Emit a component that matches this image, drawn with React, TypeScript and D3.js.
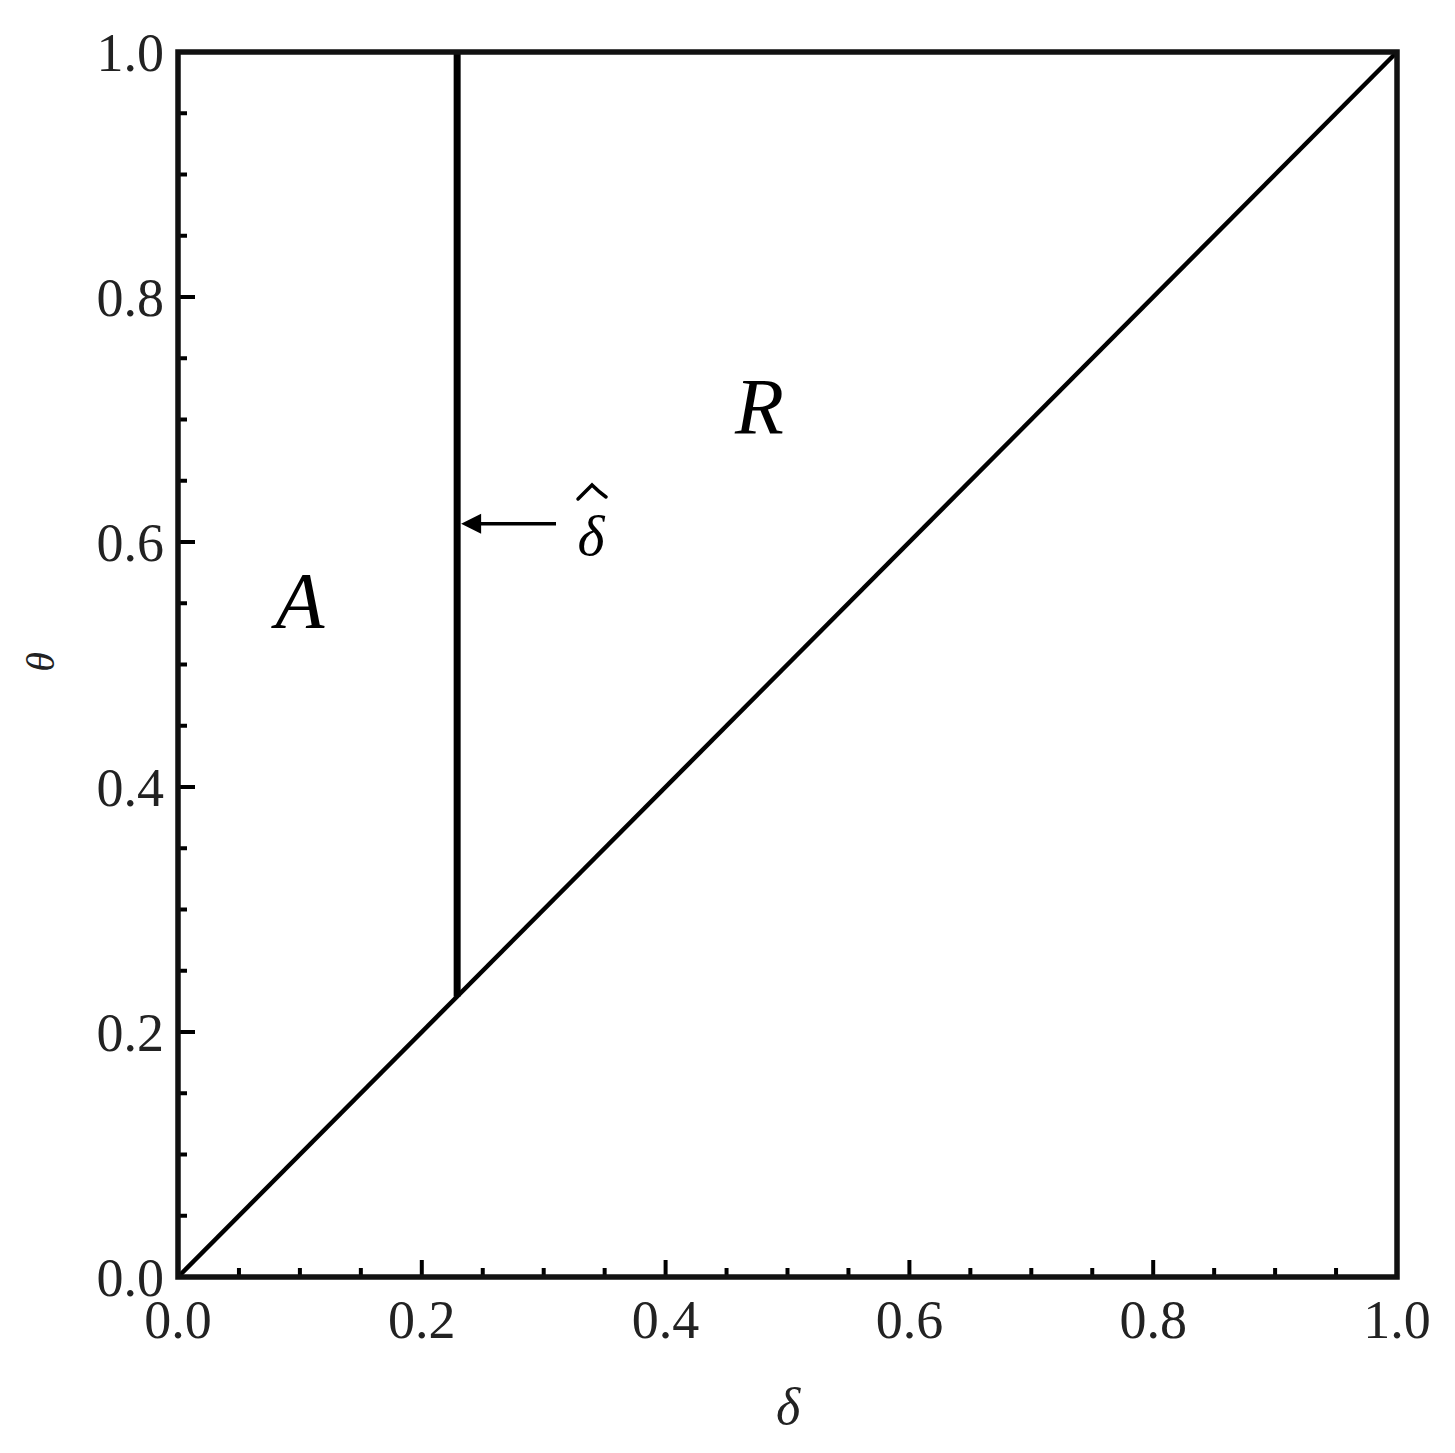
import React from "react";
import * as d3 from "d3";

const xTicksMajor = [0, 0.2, 0.4, 0.6, 0.8, 1.0];
const yTicksMajor = [0, 0.2, 0.4, 0.6, 0.8, 1.0];
const minorStep = 0.05;
const deltaHat = 0.229;
const arrowTheta = 0.615;
const diagonal = [
  [0, 0],
  [1, 1],
];
const regionLabels = [
  { text: "A", x: 0.1, y: 0.53 },
  { text: "R", x: 0.477, y: 0.688 },
];

const W = 1455;
const H = 1453;
const M = { left: 178, right: 1397, top: 52, bottom: 1277 };
const FONT = "'Liberation Serif', 'DejaVu Serif', serif";

export default function App() {
  const x = d3.scaleLinear().domain([0, 1]).range([M.left, M.right]);
  const y = d3.scaleLinear().domain([0, 1]).range([M.bottom, M.top]);
  const minor = d3.range(0, 1.0001, minorStep).filter(
    (v) => !xTicksMajor.some((m) => Math.abs(m - v) < 1e-6)
  );
  const line = d3
    .line<number[]>()
    .x((d) => x(d[0]))
    .y((d) => y(d[1]));
  const fmt = d3.format(".1f");
  const ay = y(arrowTheta);
  const vx = x(deltaHat);
  return (
    <svg
      width={W}
      height={H}
      style={{ position: "absolute", left: 0, top: 0, background: "#fff" }}
    >
      {/* diagonal */}
      <path d={line(diagonal) || ""} stroke="#000" strokeWidth={4.5} fill="none" />
      {/* vertical delta hat line */}
      <line x1={vx} x2={vx} y1={y(deltaHat)} y2={y(1)} stroke="#000" strokeWidth={7} />
      {/* arrow */}
      <line x1={556} x2={470} y1={ay} y2={ay} stroke="#000" strokeWidth={3.5} />
      <path
        d={`M${vx + 4},${ay} L${vx + 24},${ay - 10} L${vx + 24},${ay + 10} Z`}
        fill="#000"
      />
      <text
        x={591}
        y={555}
        fontFamily={FONT}
        fontStyle="italic"
        fontSize={58}
        textAnchor="middle"
      >
        δ
      </text>
      {/* circumflex accent */}
      <path
        d="M578,499 Q585,492 592,485 Q599,492 606,497"
        stroke="#000"
        strokeWidth={3.5}
        fill="none"
        strokeLinecap="round"
      />
      {regionLabels.map((r) => (
        <text
          key={r.text}
          x={x(r.x)}
          y={y(r.y)}
          fontFamily={FONT}
          fontStyle="italic"
          fontSize={80}
          textAnchor="middle"
        >
          {r.text}
        </text>
      ))}
      {/* ticks */}
      {xTicksMajor.map((t) => (
        <g key={"xm" + t}>
          <line x1={x(t)} x2={x(t)} y1={M.bottom} y2={M.bottom - 17} stroke="#000" strokeWidth={4} />
          <text x={x(t)} y={1338} fontFamily={FONT} fontSize={54} textAnchor="middle" fill="#222">
            {fmt(t)}
          </text>
        </g>
      ))}
      {minor.map((t) => (
        <line key={"xn" + t} x1={x(t)} x2={x(t)} y1={M.bottom} y2={M.bottom - 9} stroke="#000" strokeWidth={4} />
      ))}
      {yTicksMajor.map((t) => (
        <g key={"ym" + t}>
          <line x1={M.left} x2={M.left + 17} y1={y(t)} y2={y(t)} stroke="#000" strokeWidth={4} />
          <text x={164} y={y(t) + 19} fontFamily={FONT} fontSize={54} textAnchor="end" fill="#222">
            {fmt(t)}
          </text>
        </g>
      ))}
      {minor.map((t) => (
        <line key={"yn" + t} x1={M.left} x2={M.left + 9} y1={y(t)} y2={y(t)} stroke="#000" strokeWidth={4} />
      ))}
      {/* frame */}
      <rect
        x={M.left}
        y={M.top}
        width={M.right - M.left}
        height={M.bottom - M.top}
        fill="none"
        stroke="#111"
        strokeWidth={5.5}
      />
      {/* axis titles */}
      <text x={788} y={1424} fontFamily={FONT} fontStyle="italic" fontSize={52} textAnchor="middle" fill="#222">
        δ
      </text>
      <text
        transform={`translate(54,662) rotate(-90)`}
        fontFamily={FONT}
        fontStyle="italic"
        fontSize={40}
        textAnchor="middle"
        fill="#222"
      >
        θ
      </text>
    </svg>
  );
}
